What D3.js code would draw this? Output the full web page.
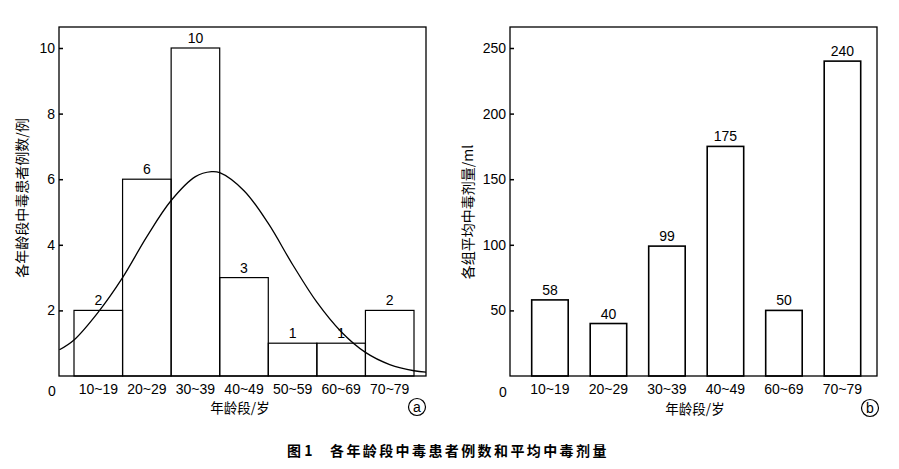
<!DOCTYPE html>
<html><head><meta charset="utf-8">
<script src="https://cdn.jsdelivr.net/npm/d3@7/dist/d3.min.js"></script>
<style>
body{margin:0;background:#fff;}
text{font-family:"Liberation Sans",Arial,sans-serif;fill:#000;}
.cjk{font-family:"Noto Sans CJK SC",sans-serif;}
</style></head>
<body><svg id="c" width="899" height="469"></svg>
<script>
// ---- data ----
const ageGroupsA = ["10~19","20~29","30~39","40~49","50~59","60~69","70~79"];
const casesA = [2,6,10,3,1,1,2];
const ticksA = [2,4,6,8,10];
// fitted normal curve: [age, count]
const curveAges = [7,10,15,20,25,30,35,38.3,40,45,50,55,60,65,70,75,80,82.5];
const curveVals = [0.8,1.1,1.95,3.0,4.25,5.35,6.08,6.23,6.2,5.65,4.65,3.4,2.25,1.35,0.72,0.35,0.16,0.12];

const ageGroupsB = ["10~19","20~29","30~39","40~49","60~69","70~79"];
const doseB = [58,40,99,175,50,240];
const ticksB = [50,100,150,200,250];

const svg = d3.select("#c");

// ---------- Chart a ----------
const A = {l:59, r:426, t:27, b:376};
const xA = d3.scaleBand().domain(ageGroupsA).range([74,414]).padding(0);
const yA = d3.scaleLinear().domain([0,10]).range([A.b,48]);
const ageX = d3.scaleLinear().domain([10,80]).range([74,414]);

svg.append("defs").append("clipPath").attr("id","clipA")
  .append("rect").attr("x",A.l).attr("y",A.t).attr("width",A.r-A.l).attr("height",A.b-A.t);

const gA = svg.append("g");
gA.selectAll("rect.bar").data(casesA).join("rect")
  .attr("x",(d,i)=>xA(ageGroupsA[i])).attr("y",d=>yA(d))
  .attr("width",xA.bandwidth()).attr("height",d=>A.b-yA(d))
  .attr("fill","none").attr("stroke","#000").attr("stroke-width",1.2);
gA.selectAll("text.lbl").data(casesA).join("text")
  .attr("x",(d,i)=>xA(ageGroupsA[i])+xA.bandwidth()/2).attr("y",d=>yA(d)-5)
  .attr("text-anchor","middle").attr("font-size",14).text(d=>d);

const line = d3.line().x(d=>ageX(d[0])).y(d=>yA(d[1])).curve(d3.curveCatmullRom);
gA.append("path").datum(curveAges.map((a,i)=>[a,curveVals[i]]))
  .attr("d",line).attr("fill","none").attr("stroke","#000").attr("stroke-width",1.3)
  .attr("clip-path","url(#clipA)");

gA.append("rect").attr("x",A.l).attr("y",A.t).attr("width",A.r-A.l).attr("height",A.b-A.t)
  .attr("fill","none").attr("stroke","#000").attr("stroke-width",1.3);

const axA = gA.append("g").attr("transform",`translate(${A.l},0)`)
  .call(d3.axisLeft(yA).tickValues(ticksA).tickSize(-4).tickPadding(4));
axA.select(".domain").remove();
axA.selectAll("text").attr("font-size",14).attr("font-family","Liberation Sans, Arial, sans-serif");
axA.selectAll("line").attr("stroke-width",1.5);

const axAx = gA.append("g").attr("transform",`translate(0,${A.b})`)
  .call(d3.axisBottom(xA).tickSize(0).tickPadding(8));
axAx.select(".domain").remove();
axAx.selectAll("text").attr("font-size",14).attr("font-family","Liberation Sans, Arial, sans-serif");

gA.append("text").attr("x",52).attr("y",396).attr("text-anchor","middle").attr("font-size",14).text("0");
gA.append("text").attr("class","cjk").attr("x",240).attr("y",413).attr("text-anchor","middle")
  .attr("font-size",13.5).text("年龄段/岁");
gA.append("text").attr("class","cjk")
  .attr("transform","translate(27,198) rotate(-90)").attr("text-anchor","middle")
  .attr("font-size",14).text("各年龄段中毒患者例数/例");
gA.append("circle").attr("cx",417).attr("cy",407).attr("r",8.5).attr("fill","none").attr("stroke","#000").attr("stroke-width",1.2);
gA.append("text").attr("x",417).attr("y",412).attr("text-anchor","middle").attr("font-size",14).text("a");

// ---------- Chart b ----------
const B = {l:510, r:877, t:27, b:376};
const xB = d3.scaleBand().domain(ageGroupsB).range([520.7,871.7]).paddingInner(0.376).paddingOuter(0.188);
const yB = d3.scaleLinear().domain([0,250]).range([B.b,48]);
const gB = svg.append("g");
gB.selectAll("rect.bar").data(doseB).join("rect")
  .attr("x",(d,i)=>xB(ageGroupsB[i])).attr("y",d=>yB(d))
  .attr("width",xB.bandwidth()).attr("height",d=>B.b-yB(d))
  .attr("fill","none").attr("stroke","#000").attr("stroke-width",1.6);
gB.selectAll("text.lbl").data(doseB).join("text")
  .attr("x",(d,i)=>xB(ageGroupsB[i])+xB.bandwidth()/2).attr("y",d=>yB(d)-5)
  .attr("text-anchor","middle").attr("font-size",14).text(d=>d);
gB.append("rect").attr("x",B.l).attr("y",B.t).attr("width",B.r-B.l).attr("height",B.b-B.t)
  .attr("fill","none").attr("stroke","#000").attr("stroke-width",1.3);
const axB = gB.append("g").attr("transform",`translate(${B.l},0)`)
  .call(d3.axisLeft(yB).tickValues(ticksB).tickSize(-4).tickPadding(4));
axB.select(".domain").remove();
axB.selectAll("text").attr("font-size",14).attr("font-family","Liberation Sans, Arial, sans-serif");
axB.selectAll("line").attr("stroke-width",1.5);
const axBx = gB.append("g").attr("transform",`translate(0,${B.b})`)
  .call(d3.axisBottom(xB).tickSize(0).tickPadding(8));
axBx.select(".domain").remove();
axBx.selectAll("text").attr("font-size",14).attr("font-family","Liberation Sans, Arial, sans-serif");
gB.append("text").attr("x",503).attr("y",397).attr("text-anchor","middle").attr("font-size",14).text("0");
gB.append("text").attr("class","cjk").attr("x",695).attr("y",414).attr("text-anchor","middle")
  .attr("font-size",13.5).text("年龄段/岁");
gB.append("text").attr("class","cjk")
  .attr("transform","translate(473,212) rotate(-90)").attr("text-anchor","middle")
  .attr("font-size",14).text("各组平均中毒剂量/ml");
gB.append("circle").attr("cx",870).attr("cy",408).attr("r",8.5).attr("fill","none").attr("stroke","#000").attr("stroke-width",1.2);
gB.append("text").attr("x",870).attr("y",413).attr("text-anchor","middle").attr("font-size",14).text("b");

// ---------- Caption ----------
svg.append("text").attr("class","cjk").attr("x",287).attr("y",456).attr("font-size",14).attr("font-weight","bold").text("图 1");
svg.append("text").attr("class","cjk").attr("x",330).attr("y",456).attr("font-size",14).attr("font-weight","bold")
  .attr("letter-spacing",2.4).text("各年龄段中毒患者例数和平均中毒剂量");
</script></body></html>
